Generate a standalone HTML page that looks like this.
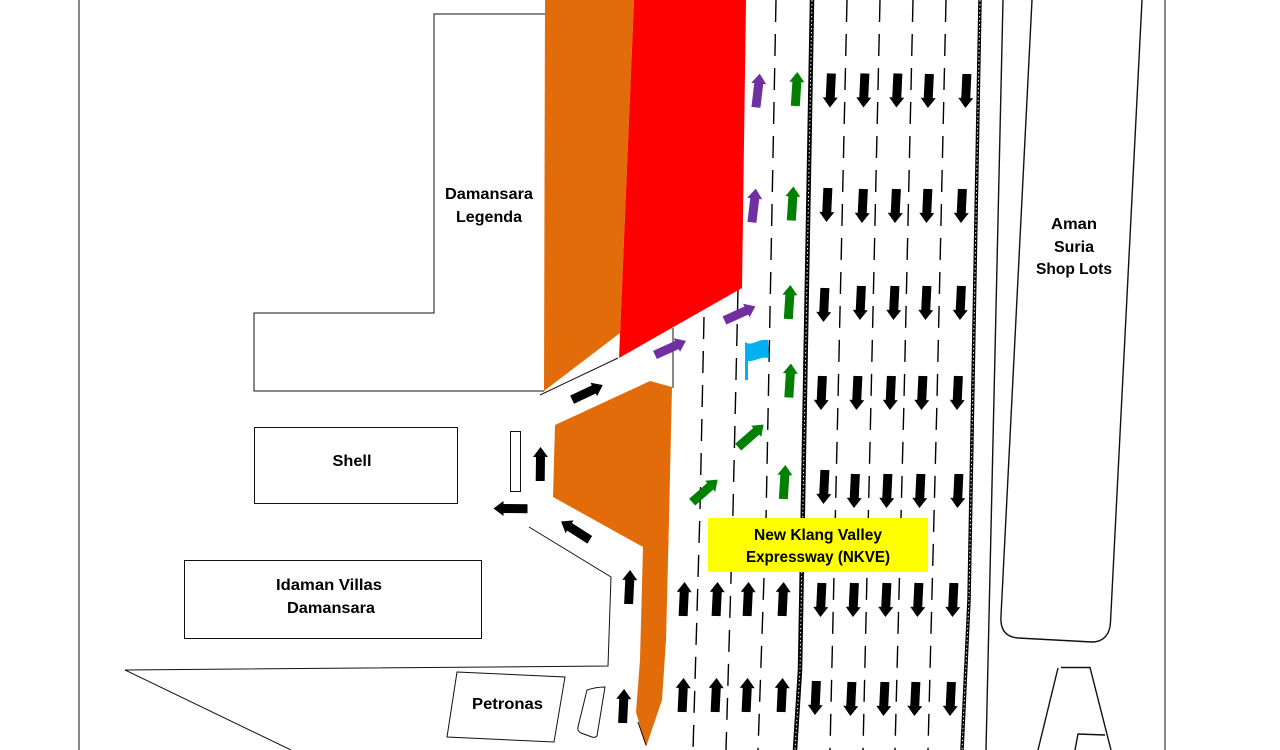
<!DOCTYPE html>
<html><head><meta charset="utf-8"><style>
html,body{margin:0;padding:0;background:#fff;width:1280px;height:750px;overflow:hidden}
svg{display:block}
text{font-family:"Liberation Sans",sans-serif;font-weight:bold;font-size:16px;fill:#000;text-anchor:middle}
.l{fill:none;stroke:#111;stroke-width:1}
.d{fill:none;stroke:#000;stroke-width:1.4;stroke-dasharray:22 12}
.t{fill:none;stroke:#000;stroke-width:4.5}
.t2{fill:none;stroke:#fff;stroke-width:1;stroke-dasharray:1.5 2.5}
</style></head><body>
<svg width="1280" height="750" viewBox="0 0 1280 750" xmlns="http://www.w3.org/2000/svg">
<defs>
<path id="a" d="M-4.8 17L-4.5 -7L-7.5 -7L0 -17L7.5 -7L4.5 -7L4.2 17Z"/>
</defs>
<!-- outlines -->
<path class="l" d="M79 0V750M1165 0V750"/>
<path class="l" d="M545 14H434V313H254V391H544"/>
<rect class="l" x="254.500" y="427.500" width="203" height="76"/>
<rect class="l" x="184.500" y="560.500" width="297" height="78"/>
<rect class="l" x="510.500" y="431.500" width="10" height="60"/>
<path class="l" d="M457 672L565 677L554 742L447 737Z"/>
<path class="l" d="M587 690Q596 687 605 687L597 736Q595 738 592 737L581 733Q577 731 578 727Z"/>
<path class="l" d="M529 527L611 577L608 666L125 670L291 750"/>
<path class="l" d="M540 395L618 358M673 328V388"/>
<path class="l" style="stroke-width:1.4" d="M1003 0L986 750"/>
<path class="l" style="stroke-width:1.4" d="M1032 0L1001 616C1000 630 1006 637 1018 638L1092 642C1103 642 1110 635 1110.500 622L1142 0"/>
<path class="l" style="stroke-width:1.4" d="M1038 750L1058 668M1061 667.500H1090L1111 750M1075 750L1078 734L1105 735"/>
<!-- dashed lanes -->
<path class="d" d="M776 0L766 520L758 750"/>
<path class="d" d="M738 290L733 510L726 750"/>
<path class="d" d="M704 317L700 510L693 750"/>
<path class="d" d="M847 0L838 400L830 750"/>
<path class="d" d="M880 0L871 400L863 750"/>
<path class="d" d="M913 0L904 400L895 750"/>
<path class="d" d="M946 0L937 400L928 750"/>
<!-- thick lines -->
<path class="t" d="M812 0L800 670L795 750"/>
<path class="t2" d="M812 0L800 670L795 750"/>
<path class="t" d="M980 0L969 600L962 750" style="stroke-width:3.5"/>
<path class="t2" d="M980 0L969 600L962 750"/>
<!-- fills -->
<path fill="#e36c0a" d="M545 0H634L620 333L544 391Z"/>
<path fill="#e36c0a" d="M650 381L672 387L669 520L666 640L662 700L646 747L636 712L640 660L643 547L553 497L555 425Z"/>
<path fill="#ff0000" d="M634 0H746L742 288L619 358Z"/>
<path fill="none" stroke="#000" d="M638 722L646 745"/>
<!-- flag -->
<path fill="#00b0f0" d="M745 342C752 347 758 338 768 340L769 358C760 356 755 362 748 361V380H745Z"/>
<!-- yellow -->
<rect x="708" y="518" width="220" height="54" fill="#ffff00"/>
<!-- black arrows down -->
<g fill="#000">
<use href="#a" transform="translate(830.500 90.500) rotate(182)"/><use href="#a" transform="translate(864 90.500) rotate(182)"/><use href="#a" transform="translate(897 90.500) rotate(182)"/><use href="#a" transform="translate(928.500 91) rotate(182)"/><use href="#a" transform="translate(966 91) rotate(182)"/>
<use href="#a" transform="translate(827 205) rotate(182)"/><use href="#a" transform="translate(862.500 206) rotate(182)"/><use href="#a" transform="translate(895.500 206) rotate(182)"/><use href="#a" transform="translate(927 206) rotate(182)"/><use href="#a" transform="translate(961.500 206) rotate(182)"/>
<use href="#a" transform="translate(824 305) rotate(182)"/><use href="#a" transform="translate(860.500 303) rotate(182)"/><use href="#a" transform="translate(894 303) rotate(182)"/><use href="#a" transform="translate(926 303) rotate(182)"/><use href="#a" transform="translate(960.500 303) rotate(182)"/>
<use href="#a" transform="translate(821.500 393) rotate(182)"/><use href="#a" transform="translate(857 393) rotate(182)"/><use href="#a" transform="translate(890.500 393) rotate(182)"/><use href="#a" transform="translate(922 393) rotate(182)"/><use href="#a" transform="translate(957.500 393) rotate(182)"/>
<use href="#a" transform="translate(824 487) rotate(182)"/><use href="#a" transform="translate(854.500 491) rotate(182)"/><use href="#a" transform="translate(887 491) rotate(182)"/><use href="#a" transform="translate(920 491) rotate(182)"/><use href="#a" transform="translate(958 491) rotate(182)"/>
<use href="#a" transform="translate(821 600) rotate(182)"/><use href="#a" transform="translate(853.500 600) rotate(182)"/><use href="#a" transform="translate(886 600) rotate(182)"/><use href="#a" transform="translate(918 600) rotate(182)"/><use href="#a" transform="translate(953 600) rotate(182)"/>
<use href="#a" transform="translate(815.500 698) rotate(182)"/><use href="#a" transform="translate(851 699) rotate(182)"/><use href="#a" transform="translate(884 699) rotate(182)"/><use href="#a" transform="translate(915 699) rotate(182)"/><use href="#a" transform="translate(950.500 699) rotate(182)"/>
<!-- black up -->
<use href="#a" transform="translate(684 599) rotate(2)"/><use href="#a" transform="translate(717 599) rotate(2)"/><use href="#a" transform="translate(748 599) rotate(2)"/><use href="#a" transform="translate(783 599) rotate(2)"/>
<use href="#a" transform="translate(683 695) rotate(2)"/><use href="#a" transform="translate(716 695) rotate(2)"/><use href="#a" transform="translate(747 695) rotate(2)"/><use href="#a" transform="translate(782 695) rotate(2)"/>
<use href="#a" transform="translate(629.500 587) rotate(2)"/><use href="#a" transform="translate(623.500 706) rotate(2)"/>
<use href="#a" transform="translate(540.500 464)"/>
<use href="#a" transform="translate(510.500 508.500) rotate(-90)"/>
<use href="#a" transform="translate(575.500 530.500) rotate(-58)"/>
<use href="#a" transform="translate(587.500 392.500) rotate(64)"/>
</g>
<!-- green -->
<g fill="#008000">
<use href="#a" transform="translate(796.500 89) rotate(3)"/><use href="#a" transform="translate(792.500 203.500) rotate(3)"/><use href="#a" transform="translate(789.500 302) rotate(3)"/><use href="#a" transform="translate(790 380.500) rotate(3)"/><use href="#a" transform="translate(784.500 482) rotate(3)"/>
<use href="#a" transform="translate(705 491) rotate(48)"/><use href="#a" transform="translate(751 436) rotate(48)"/>
</g>
<!-- purple -->
<g fill="#7030a0">
<use href="#a" transform="translate(758 90.500) rotate(6)"/><use href="#a" transform="translate(754 205.500) rotate(6)"/>
<use href="#a" transform="translate(670.500 348) rotate(65)"/><use href="#a" transform="translate(740 313.500) rotate(65)"/>
</g>
<!-- labels -->
<text x="489" y="199" textLength="88" lengthAdjust="spacingAndGlyphs">Damansara</text>
<text x="489" y="222" textLength="66" lengthAdjust="spacingAndGlyphs">Legenda</text>
<text x="352" y="466" textLength="39" lengthAdjust="spacingAndGlyphs">Shell</text>
<text x="329" y="590" textLength="106" lengthAdjust="spacingAndGlyphs">Idaman Villas</text>
<text x="331" y="613" textLength="88" lengthAdjust="spacingAndGlyphs">Damansara</text>
<text x="507.500" y="709" textLength="71" lengthAdjust="spacingAndGlyphs">Petronas</text>
<text x="1074" y="229" textLength="46" lengthAdjust="spacingAndGlyphs">Aman</text>
<text x="1074" y="252" textLength="40" lengthAdjust="spacingAndGlyphs">Suria</text>
<text x="1074" y="274" textLength="76" lengthAdjust="spacingAndGlyphs">Shop Lots</text>
<text x="818" y="540" textLength="128" lengthAdjust="spacingAndGlyphs">New Klang Valley</text>
<text x="818" y="562" textLength="144" lengthAdjust="spacingAndGlyphs">Expressway (NKVE)</text>
</svg>
</body></html>
